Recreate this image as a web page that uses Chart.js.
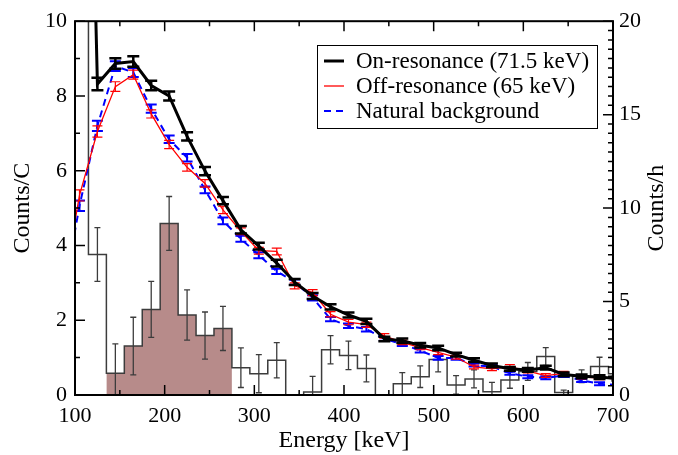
<!DOCTYPE html>
<html>
<head>
<meta charset="utf-8">
<script src="https://cdn.jsdelivr.net/npm/chart.js@4.4.1/dist/chart.umd.min.js"></script>
<style>
  html, body { margin: 0; padding: 0; background: #fff; }
</style>
</head>
<body>
<canvas id="spectrum" width="678" height="455"></canvas>
<script>
// bin centres (keV) for the three spectra
const energy = [85, 105, 125, 145, 165, 185, 205, 225, 245, 265, 285, 305, 325, 345, 365, 385,
                405, 425, 445, 465, 485, 505, 525, 545, 565, 585, 605, 625, 645, 665, 685, 705];

const onRes = [null, 28, 8.32, 8.87, 8.92, 8.28, 8.0, 6.92, 5.99, 5.2, 4.42, 3.98, 3.53, 3.02, 2.65, 2.36,
               2.14, 1.97, 1.5, 1.45, 1.33, 1.26, 1.08, 0.93, 0.79, 0.7, 0.67, 0.73, 0.55, 0.5, 0.48, 0.44];
const onResErr = [0, 0, 0.17, 0.14, 0.14, 0.13, 0.12, 0.11, 0.11, 0.1, 0.1, 0.09, 0.09, 0.08, 0.08, 0.07,
                  0.07, 0.07, 0.06, 0.06, 0.06, 0.06, 0.05, 0.05, 0.05, 0.05, 0.05, 0.05, 0.05, 0.05, 0.05, 0.05];

const offRes = [2.6, 5.34, 7.05, 8.25, 8.57, 7.52, 6.7, 6.09, 5.66, 4.95, 4.38, 3.86, 3.84, 2.92, 2.74, 2.16,
                1.95, 1.88, 1.58, 1.41, 1.27, 1.14, 1.01, 0.75, 0.7, 0.76, 0.64, 0.52, 0.58, 0.48, 0.46, 0.43];
const offResErr = [0.15, 0.15, 0.15, 0.13, 0.12, 0.11, 0.11, 0.1, 0.1, 0.1, 0.09, 0.09, 0.09, 0.08, 0.08, 0.07,
                   0.07, 0.07, 0.06, 0.06, 0.06, 0.06, 0.05, 0.05, 0.05, 0.05, 0.05, 0.05, 0.05, 0.05, 0.05, 0.05];

const natural = [2.4, 5.06, 7.2, 8.8, 8.63, 7.66, 6.84, 6.35, 5.49, 4.66, 4.18, 3.74, 3.31, 3.02, 2.6, 2.03,
                 1.85, 1.76, 1.5, 1.36, 1.19, 0.99, 0.99, 0.8, 0.76, 0.58, 0.49, 0.46, 0.52, 0.39, 0.3, 0.27];
const naturalErr = [0.14, 0.14, 0.14, 0.13, 0.12, 0.11, 0.1, 0.1, 0.09, 0.09, 0.08, 0.08, 0.07, 0.07, 0.07, 0.06,
                    0.06, 0.06, 0.05, 0.05, 0.05, 0.05, 0.05, 0.04, 0.04, 0.04, 0.04, 0.04, 0.04, 0.04, 0.04, 0.04];

// difference histogram (counts/h), bins of 20 keV
const histEdges = [95, 115, 135, 155, 175, 195, 215, 235, 255, 275, 295, 315, 335, 355, 375, 395,
                   415, 435, 455, 475, 495, 515, 535, 555, 575, 595, 615, 635, 655, 675, 695, 715];
const histCounts = [14, 3.76, 0.58, 1.31, 2.29, 4.59, 2.14, 1.59, 1.78, 0.73, 0.57, 0.93, 0, 0.08, 1.21, 1.06,
                    0.71, 0, 0.3, 0.49, 0.95, 0.27, 0.43, 0.09, 0.4, 0.63, 1.03, 0.07, 0.5, 0.76, 0.57];
const histErr = [0, 0.72, 0.79, 0.77, 0.75, 0.72, 0.67, 0.63, 0.59, 0.53, 0.51, 0.47, 0, 0.42, 0.38, 0.38,
                 0.36, 0, 0.3, 0.29, 0.33, 0.25, 0.24, 0.25, 0.22, 0.24, 0.24, 0.06, 0.17, 0.25, 0.2];

// shaded signal window
const signalFrom = 135;
const signalTo = 275;

const serif = '"Liberation Serif", "DejaVu Serif", serif';

function stepPoints(from, to) {
    const pts = [];
    for (let i = 0; i < histCounts.length; i++) {
        if (histEdges[i] >= from && histEdges[i + 1] <= to) {
            pts.push({ x: histEdges[i], y: histCounts[i] });
        }
    }
    // close the last bin at its right edge
    const last = pts[pts.length - 1];
    const idx = histEdges.indexOf(last.x);
    pts.push({ x: histEdges[idx + 1], y: last.y });
    return pts;
}

function series(values) {
    return energy.map((e, i) => ({ x: e, y: values[i] }));
}

// error bars drawn right after their own dataset
const errorBars = {
    id: 'errorBars',
    afterDatasetDraw(chart, args) {
        const ds = chart.data.datasets[args.index];
        if (!ds.errors) return;
        const ctx = chart.ctx;
        const xs = chart.scales.x;
        const ys = chart.scales.y;
        const area = chart.chartArea;
        ctx.save();
        ctx.beginPath();
        ctx.rect(area.left, area.top, area.right - area.left, area.bottom - area.top);
        ctx.clip();
        ctx.strokeStyle = ds.errColor;
        ctx.lineWidth = ds.errWidth;
        ctx.setLineDash([]);
        ds.errPos.forEach((e, i) => {
            const v = ds.errVal[i];
            const err = ds.errors[i];
            if (v === null || !err) return;
            const px = xs.getPixelForValue(e);
            const top = ys.getPixelForValue(v + err);
            const bot = ys.getPixelForValue(Math.max(0, v - err));
            const half = ds.errCap / 2;
            ctx.beginPath();
            ctx.moveTo(px, top);
            ctx.lineTo(px, bot);
            ctx.moveTo(px - half, top);
            ctx.lineTo(px + half, top);
            if (v - err > 0) {
                ctx.moveTo(px - half, bot);
                ctx.lineTo(px + half, bot);
            }
            ctx.stroke();
        });
        ctx.restore();
    }
};

// frame, inward tick marks, right-hand title and the boxed legend
const frame = {
    id: 'frame',
    afterDatasetsDraw(chart) {
        const ctx = chart.ctx;
        const a = chart.chartArea;
        const xs = chart.scales.x;
        const ys = chart.scales.y;
        const y2 = chart.scales.y2;
        ctx.save();
        ctx.strokeStyle = '#000';
        ctx.lineWidth = 1.5;
        ctx.beginPath();
        for (let e = 100; e <= 700; e += 50) {
            const px = xs.getPixelForValue(e);
            const len = e % 100 === 0 ? 10 : 5;
            ctx.moveTo(px, a.bottom);
            ctx.lineTo(px, a.bottom - len);
            ctx.moveTo(px, a.top);
            ctx.lineTo(px, a.top + len);
        }
        for (let v = 0; v <= 10; v += 1) {
            const py = ys.getPixelForValue(v);
            const len = v % 2 === 0 ? 10 : 5;
            ctx.moveTo(a.left, py);
            ctx.lineTo(a.left + len, py);
        }
        for (let v = 0; v <= 20; v += 0.5) {
            const py = y2.getPixelForValue(v);
            const len = v % 5 === 0 ? 10 : 5;
            ctx.moveTo(a.right, py);
            ctx.lineTo(a.right - len, py);
        }
        ctx.stroke();

        ctx.lineWidth = 2;
        ctx.strokeRect(a.left, a.top, a.right - a.left, a.bottom - a.top);

        // right axis title reads bottom-to-top like the left one
        ctx.save();
        ctx.translate(657, (a.top + a.bottom) / 2);
        ctx.rotate(-Math.PI / 2);
        ctx.font = '24px ' + serif;
        ctx.fillStyle = '#000';
        ctx.textAlign = 'center';
        ctx.textBaseline = 'middle';
        ctx.fillText('Counts/h', 0, 0);
        ctx.restore();

        // legend
        ctx.fillStyle = '#fff';
        ctx.fillRect(317, 45, 280, 83);
        ctx.lineWidth = 1;
        ctx.strokeStyle = '#000';
        ctx.strokeRect(317.5, 45.5, 280, 83);
        const rows = [
            { text: 'On-resonance (71.5 keV)', color: '#000', width: 3, dash: [] },
            { text: 'Off-resonance (65 keV)', color: '#ff0000', width: 1.3, dash: [] },
            { text: 'Natural background', color: '#0000ff', width: 2, dash: [7, 5] }
        ];
        ctx.font = '23px ' + serif;
        ctx.textBaseline = 'alphabetic';
        rows.forEach((r, i) => {
            const base = 68 + i * 25;
            ctx.beginPath();
            ctx.strokeStyle = r.color;
            ctx.lineWidth = r.width;
            ctx.setLineDash(r.dash);
            ctx.moveTo(324, base - 7);
            ctx.lineTo(344, base - 7);
            ctx.stroke();
            ctx.setLineDash([]);
            ctx.fillStyle = '#000';
            ctx.fillText(r.text, 356, base);
        });
        ctx.restore();
    }
};

const ctx = document.getElementById('spectrum').getContext('2d');
new Chart(ctx, {
    type: 'line',
    data: {
        datasets: [
            {
                label: 'On-resonance (71.5 keV)',
                data: series(onRes),
                borderColor: '#000',
                borderWidth: 3,
                pointRadius: 0,
                order: 1,
                errPos: energy, errVal: onRes, errors: onResErr,
                errColor: '#000', errWidth: 2.5, errCap: 12
            },
            {
                label: 'Off-resonance (65 keV)',
                data: series(offRes),
                borderColor: '#ff0000',
                borderWidth: 1.3,
                pointRadius: 0,
                order: 2,
                errPos: energy, errVal: offRes, errors: offResErr,
                errColor: '#ff0000', errWidth: 1.2, errCap: 10
            },
            {
                label: 'Natural background',
                data: series(natural),
                borderColor: '#0000ff',
                borderWidth: 2,
                borderDash: [7, 5],
                pointRadius: 0,
                order: 3,
                errPos: energy, errVal: natural, errors: naturalErr,
                errColor: '#0000ff', errWidth: 2, errCap: 11
            },
            {
                label: 'Difference',
                data: stepPoints(95, 715),
                stepped: 'before',
                borderColor: '#3c3c3c',
                borderWidth: 1.5,
                pointRadius: 0,
                order: 4,
                errPos: histEdges.slice(0, -1).map((e, i) => (e + histEdges[i + 1]) / 2),
                errVal: histCounts, errors: histErr,
                errColor: '#3c3c3c', errWidth: 1.3, errCap: 6
            },
            {
                label: 'Signal window',
                data: stepPoints(signalFrom, signalTo),
                stepped: 'before',
                borderWidth: 0,
                borderColor: 'rgba(0,0,0,0)',
                backgroundColor: 'rgb(183,139,138)',
                fill: 'origin',
                pointRadius: 0,
                order: 5
            }
        ]
    },
    options: {
        responsive: false,
        animation: false,
        layout: { padding: { top: 18, left: 0, right: 0, bottom: 0 } },
        plugins: {
            legend: { display: false },
            tooltip: { enabled: false }
        },
        scales: {
            x: {
                type: 'linear',
                min: 100,
                max: 700,
                grid: { display: false, drawTicks: false },
                border: { display: false },
                ticks: { stepSize: 100, color: '#000', padding: 8, font: { family: serif, size: 22 } },
                title: { display: true, text: 'Energy [keV]', color: '#000', padding: { top: 0, bottom: 0 },
                         font: { family: serif, size: 24 } },
                afterFit(scale) { scale.height = 60; }
            },
            y: {
                position: 'left',
                min: 0,
                max: 10,
                grid: { display: false, drawTicks: false },
                border: { display: false },
                ticks: { stepSize: 2, color: '#000', padding: 8, font: { family: serif, size: 22 } },
                title: { display: true, text: 'Counts/C', color: '#000', padding: { top: 8, bottom: 0 },
                         font: { family: serif, size: 24 } },
                afterFit(scale) { scale.width = 75; }
            },
            y2: {
                position: 'right',
                min: 0,
                max: 20,
                grid: { display: false, drawTicks: false },
                border: { display: false },
                ticks: { stepSize: 5, color: '#000', padding: 6, font: { family: serif, size: 22 } },
                title: { display: false },
                afterFit(scale) { scale.width = 65; }
            }
        }
    },
    plugins: [errorBars, frame]
});
</script>
</body>
</html>
